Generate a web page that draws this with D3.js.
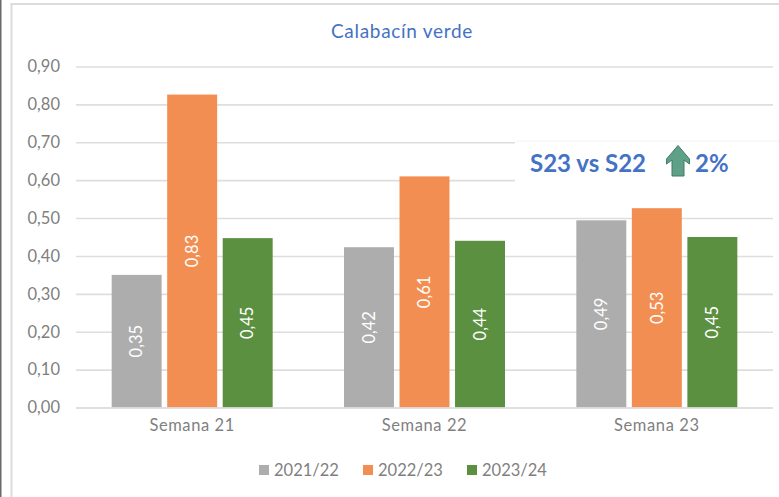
<!DOCTYPE html>
<html lang="es">

<head>
    <meta charset="UTF-8">
    <title>Calabacín verde</title>
    <script src="https://d3js.org/d3.v7.min.js"></script>
    <style>
        html, body { margin: 0; padding: 0; background: #fff; }
        svg { display: block; }
        text { font-family: "Lato", "Open Sans", sans-serif; }
    </style>
</head>

<body>
    <script>
        const semanas = ["Semana 21", "Semana 22", "Semana 23"];
        const campanas = ["2021/22", "2022/23", "2023/24"];
        const valores2122 = [0.35, 0.423, 0.494];
        const valores2223 = [0.826, 0.61, 0.526];
        const valores2324 = [0.447, 0.44, 0.45];
        const yTicks = [0, 0.1, 0.2, 0.3, 0.4, 0.5, 0.6, 0.7, 0.8, 0.9];
        const colores = ["#adadad", "#f28e52", "#5b9040"];

        const series = [valores2122, valores2223, valores2324];

        const w = 779;
        const h = 497;
        const left = 76, right = 773, top_ = 66.5, bottom = 407.5;

        const fmt = d => d3.format(".2f")(d).replace(".", ",");

        const svg = d3.select("body").append("svg")
            .attr("width", w)
            .attr("height", h);

        // marco
        svg.append("rect").attr("x", 0).attr("y", 0).attr("width", 1.5).attr("height", h).attr("fill", "#6a6a6a");
        svg.append("rect").attr("x", 10.5).attr("y", 3).attr("width", 2).attr("height", h - 3).attr("fill", "#dcdcdc");
        svg.append("rect").attr("x", 10.5).attr("y", 3).attr("width", w - 10.5).attr("height", 2).attr("fill", "#dcdcdc");

        const x0 = d3.scaleBand().domain(semanas).range([left, right]);
        const x1 = d3.scaleBand().domain(campanas)
            .range([x0.bandwidth() / 2 - 80.5, x0.bandwidth() / 2 + 80.5])
            .paddingInner(0.1).paddingOuter(0);
        const y = d3.scaleLinear().domain([0, 0.9]).range([bottom, top_]);

        // rejilla y etiquetas del eje Y
        const yAxis = d3.axisLeft(y).tickValues(yTicks).tickFormat(fmt).tickSize(0).tickPadding(16);
        const gy = svg.append("g")
            .attr("transform", "translate(" + left + ",0)")
            .call(yAxis);
        gy.select(".domain").remove();
        gy.selectAll("text")
            .attr("fill", "#7f7f7f")
            .style("font-size", "16.5px");
        gy.selectAll(".tick").append("line")
            .attr("x1", 0)
            .attr("x2", right - left)
            .attr("stroke", "#dedede")
            .attr("stroke-width", 1.6);

        // recuadro blanco del comentario, tapa la rejilla
        svg.append("rect").attr("x", 515).attr("y", 141).attr("width", w - 515).attr("height", 41).attr("fill", "#fff");
        svg.append("line").attr("x1", 515).attr("x2", w).attr("y1", 141).attr("y2", 141)
            .attr("stroke", "#f2f2f2").attr("stroke-width", 1);

        // barras
        const grupos = svg.selectAll("g.semana")
            .data(semanas)
            .enter()
            .append("g")
            .attr("class", "semana")
            .attr("transform", d => "translate(" + x0(d) + ",0)");

        campanas.forEach((c, j) => {
            grupos.append("rect")
                .attr("x", x1(c))
                .attr("y", (d, i) => y(series[j][i]))
                .attr("width", x1.bandwidth())
                .attr("height", (d, i) => bottom - y(series[j][i]))
                .attr("fill", colores[j]);

            grupos.append("text")
                .attr("transform", (d, i) => {
                    const cy = (y(series[j][i]) + bottom) / 2;
                    return "translate(" + (x1(c) + x1.bandwidth() / 2) + "," + cy + ") rotate(-90)";
                })
                .attr("text-anchor", "middle")
                .attr("dy", "0.35em")
                .attr("fill", "#fff")
                .style("font-size", "16.5px")
                .text((d, i) => fmt(series[j][i]));
        });

        // eje X
        svg.append("line")
            .attr("x1", left).attr("x2", right)
            .attr("y1", bottom + 0.5).attr("y2", bottom + 0.5)
            .attr("stroke", "#dedede").attr("stroke-width", 1.6);

        const xAxis = d3.axisBottom(x0).tickSize(0).tickPadding(12);
        const gx = svg.append("g")
            .attr("transform", "translate(0," + bottom + ")")
            .call(xAxis);
        gx.select(".domain").remove();
        gx.selectAll("text")
            .attr("fill", "#7f7f7f")
            .style("font-size", "16.5px")
            .style("letter-spacing", "0.6px");

        // titulo
        svg.append("text")
            .attr("x", 402).attr("y", 37.5)
            .attr("text-anchor", "middle")
            .attr("fill", "#4472c4")
            .style("font-size", "19px")
            .style("letter-spacing", "0.7px")
            .text("Calabacín verde");

        // comentario
        svg.append("text")
            .attr("x", 530).attr("y", 172)
            .attr("fill", "#4472c4")
            .style("font-size", "24px")
            .style("font-weight", "700")
            .text("S23 vs S22");
        svg.append("path")
            .attr("d", "M678,145.5 L689.5,159 L689.5,164 L684,160 L684,176 L672,176 L672,160 L666.5,164 L666.5,159 Z")
            .attr("fill", "#5fa088")
            .attr("stroke", "#3f7d68")
            .attr("stroke-width", 1);
        svg.append("text")
            .attr("x", 695).attr("y", 172)
            .attr("fill", "#4472c4")
            .style("font-size", "24px")
            .style("font-weight", "700")
            .text("2%");

        // leyenda
        const legendX = [259, 363, 467];
        const leg = svg.selectAll("g.leg")
            .data(campanas)
            .enter()
            .append("g")
            .attr("class", "leg")
            .attr("transform", (d, i) => "translate(" + legendX[i] + ",465)");
        leg.append("rect")
            .attr("width", 10).attr("height", 10)
            .attr("fill", (d, i) => colores[i]);
        leg.append("text")
            .attr("x", 15).attr("y", 11)
            .attr("fill", "#7f7f7f")
            .style("font-size", "16.5px")
            .text(d => d);
    </script>
</body>

</html>
